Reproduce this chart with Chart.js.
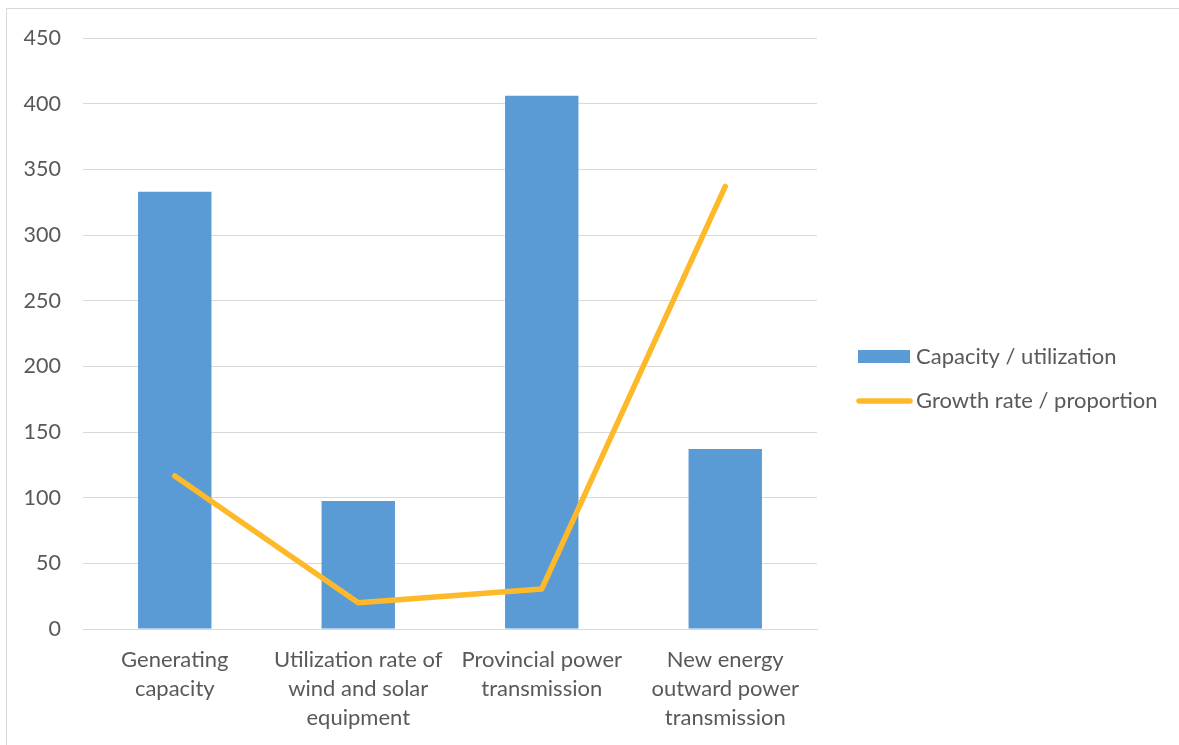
<!DOCTYPE html>
<html>
<head>
<meta charset="utf-8">
<title>Capacity and growth</title>
<script src="https://cdn.jsdelivr.net/npm/chart.js@4"></script>
<style>
  html, body { margin: 0; padding: 0; background: #ffffff; }
  #wrap { position: relative; width: 1179px; height: 745px; overflow: hidden; }
  canvas { display: block; }
</style>
</head>
<body>
<div id="wrap"><canvas id="chart" width="1179" height="745"></canvas></div>
<script>
// Categories (multi-line axis labels)
const categories = [
  ["Generating", "capacity"],
  ["Utilization rate of", "wind and solar", "equipment"],
  ["Provincial power", "transmission"],
  ["New energy", "outward power", "transmission"]
];

// Series values
const capacityValues = [333, 97.5, 406, 137];
const growthValues = [116.5, 20, 30.5, 337];

// Series names
const capacityName = "Capacity / utilization";
const growthName = "Growth rate / proportion";

// Axis range
const yMin = 0;
const yMax = 450;
const yStep = 50;

const FONT = "Lato, 'Open Sans', sans-serif";
const TEXT = "#595959";
const GRID = "#d9d9d9";
const BLUE = "#5b9bd5";
const GOLD = "#fdb92a";

// Frame around the chart and a right-hand legend
const decorations = {
  id: "decorations",
  beforeDraw(chart) {
    const ctx = chart.ctx;
    ctx.save();
    ctx.fillStyle = "#ffffff";
    ctx.fillRect(0, 0, chart.width, chart.height);
    ctx.strokeStyle = GRID;
    ctx.lineWidth = 1;
    ctx.strokeRect(6.5, 8.5, chart.width + 20, chart.height + 20);
    ctx.restore();
  },
  afterDraw(chart) {
    const ctx = chart.ctx;
    const ds = chart.data.datasets;
    const barSet = ds.find(d => d.type === "bar");
    const lineSet = ds.find(d => d.type === "line");
    ctx.save();
    ctx.font = "22px " + FONT;
    ctx.textBaseline = "middle";
    ctx.textAlign = "left";
    // bar entry
    const y1 = 356.5;
    ctx.fillStyle = barSet.backgroundColor;
    ctx.fillRect(858, y1 - 6.5, 52, 13);
    ctx.fillStyle = TEXT;
    ctx.fillText(barSet.label, 916, y1);
    // line entry
    const y2 = 401;
    ctx.strokeStyle = lineSet.borderColor;
    ctx.lineWidth = lineSet.borderWidth;
    ctx.lineCap = "round";
    ctx.beginPath();
    ctx.moveTo(859, y2);
    ctx.lineTo(910, y2);
    ctx.stroke();
    ctx.fillStyle = TEXT;
    ctx.fillText(lineSet.label, 916, y2);
    ctx.restore();
  }
};

new Chart(document.getElementById("chart"), {
  data: {
    labels: categories,
    datasets: [
      {
        type: "line",
        label: growthName,
        data: growthValues,
        borderColor: GOLD,
        backgroundColor: GOLD,
        borderWidth: 5.5,
        borderCapStyle: "round",
        borderJoinStyle: "round",
        pointRadius: 0,
        tension: 0,
        fill: false,
        order: 0
      },
      {
        type: "bar",
        label: capacityName,
        data: capacityValues,
        backgroundColor: BLUE,
        borderWidth: 0,
        categoryPercentage: 1,
        barPercentage: 0.4,
        order: 1
      }
    ]
  },
  options: {
    responsive: false,
    animation: false,
    devicePixelRatio: 1,
    layout: { padding: { top: 38, right: 362, left: 0, bottom: 0 } },
    plugins: {
      legend: { display: false },
      tooltip: { enabled: false }
    },
    scales: {
      x: {
        grid: { display: false, drawTicks: false },
        border: { display: true, color: GRID, width: 1 },
        ticks: {
          color: TEXT,
          font: { family: FONT, size: 22, lineHeight: 1.32 },
          padding: 16,
          maxRotation: 0,
          autoSkip: false
        },
        afterFit(scale) { scale.height = 116; }
      },
      y: {
        min: yMin,
        max: yMax,
        grid: { color: GRID, lineWidth: 1, drawTicks: false },
        border: { display: false },
        ticks: {
          stepSize: yStep,
          color: TEXT,
          font: { family: FONT, size: 21.5 },
          padding: 22
        },
        afterFit(scale) { scale.width = 83; }
      }
    }
  },
  plugins: [decorations]
});
</script>
</body>
</html>
